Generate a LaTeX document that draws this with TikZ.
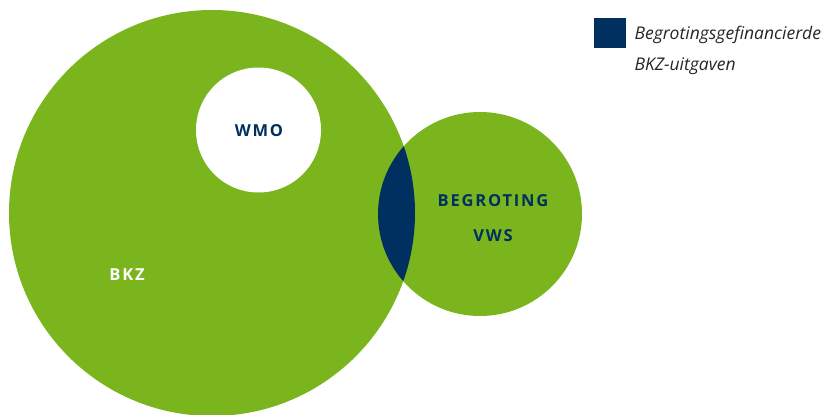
\documentclass[tikz,border=0pt]{standalone}
\usepackage{fontspec}
\setsansfont{Open Sans}
\newfontfamily\labelfont[LetterSpace=11]{Open Sans}
\definecolor{bkzgreen}{HTML}{7AB51E}
\definecolor{vwsnavy}{HTML}{00305F}
\begin{document}
\begin{tikzpicture}[x=1pt,y=-1pt,
  circlabel/.style={font=\labelfont\bfseries\fontsize{16.5}{18}\selectfont},
  legtext/.style={font=\sffamily\itshape\fontsize{17.5}{20}\selectfont,text=black!85,anchor=west}]
\useasboundingbox (0,0) rectangle (828,415);
\fill[bkzgreen] (212,213) circle (203); \fill[bkzgreen] (480,214) circle (102);
\begin{scope} \clip (480,214) circle (102); \fill[vwsnavy] (212,213) circle (203); \end{scope}
\fill[white] (258.5,130) circle (62.5);
\node[circlabel,vwsnavy] (wmo) at (259,131) {WMO};
\node[circlabel,vwsnavy] (begroting) at (493,201) {BEGROTING};
\node[circlabel,vwsnavy] (vws) at (493,236) {VWS};
\node[circlabel,white] (bkz) at (127,275) {BKZ};
\fill[vwsnavy] (594,18) rectangle (626,48);
\node[legtext] (leg1) at (631,35) {Begrotingsgefinancierde};
\node[legtext] (leg2) at (631,66) {BKZ-uitgaven};
\end{tikzpicture}
\end{document}
